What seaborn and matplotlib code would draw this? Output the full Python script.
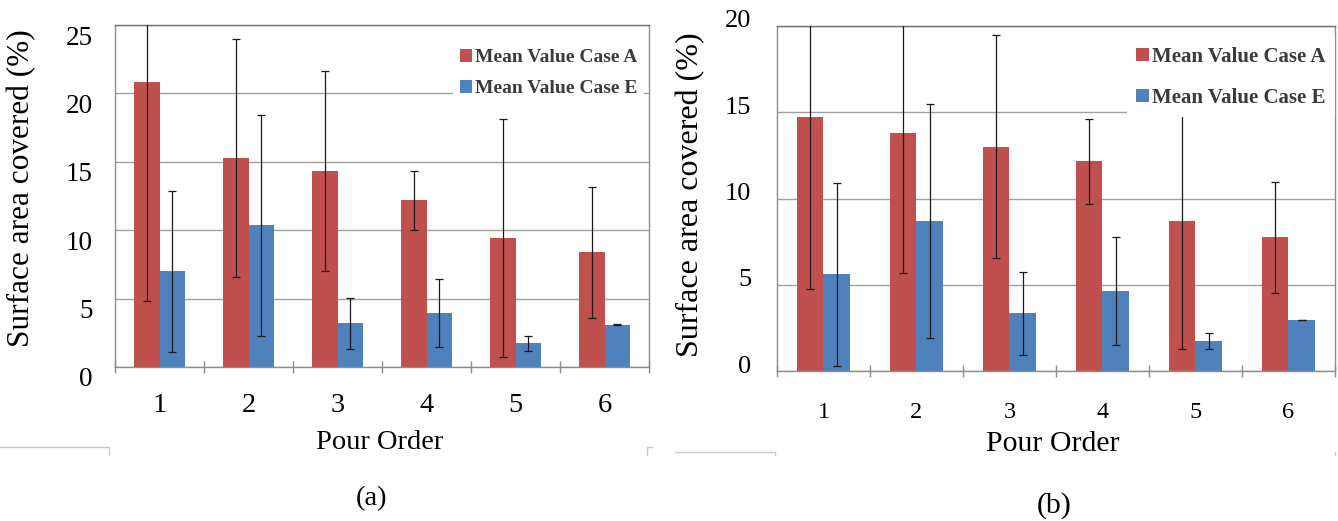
import numpy as np
import pandas as pd
import matplotlib.pyplot as plt
import matplotlib.transforms as mtransforms
from matplotlib.lines import Line2D
from matplotlib.ticker import MultipleLocator, FixedLocator
import seaborn as sns

sns.set_theme(style="white")
plt.rcParams["font.family"] = ["Liberation Serif", "DejaVu Serif"]

pour_order = [1, 2, 3, 4, 5, 6]
cases = ["Mean Value Case A", "Mean Value Case E"]

# panel (a)
a_mean_A = [20.8, 15.3, 14.35, 12.2, 9.45, 8.37]
a_err_A = [16.0, 8.7, 7.3, 2.15, 8.7, 4.77]
a_mean_E = [7.0, 10.35, 3.2, 3.95, 1.72, 3.1]
a_err_E = [5.87, 8.1, 1.85, 2.47, 0.55, 0.03]

# panel (b)
b_mean_A = [14.7, 13.8, 13.0, 12.15, 8.7, 7.75]
b_err_A = [9.95, 8.13, 6.46, 2.45, 7.4, 3.2]
b_mean_E = [5.6, 8.7, 3.35, 4.65, 1.74, 2.95]
b_err_E = [5.3, 6.8, 2.4, 3.12, 0.44, 0.02]

RED = "#C0504D"
BLUE = "#4F81BD"
GRID = "#A0A0A0"


def long_df(mean_A, mean_E):
    return pd.DataFrame({
        "order": [str(p) for p in pour_order] * 2,
        "value": list(mean_A) + list(mean_E),
        "case": [cases[0]] * 6 + [cases[1]] * 6,
    })


def draw(ax, mean_A, err_A, mean_E, err_E, ymax, cfg):
    df = long_df(mean_A, mean_E)
    sns.barplot(data=df, x="order", y="value", hue="case", ax=ax,
                palette=[RED, BLUE], width=0.57, errorbar=None,
                saturation=1, linewidth=0, zorder=2)
    for cont, err in zip(ax.containers, [err_A, err_E]):
        xs = [p.get_x() + p.get_width() / 2 for p in cont.patches]
        hs = [p.get_height() for p in cont.patches]
        ax.errorbar(xs, hs, yerr=err, fmt="none", ecolor="#1a1a1a",
                    elinewidth=0.9, capsize=2.6, capthick=0.9, zorder=3)

    ax.set_xlim(-0.5, 5.5)
    ax.set_ylim(0, ymax)
    ax.yaxis.set_major_locator(MultipleLocator(5))
    ax.grid(axis="y", color=GRID, linewidth=1.0)
    ax.grid(axis="x", visible=False)
    ax.set_axisbelow(True)

    for s in ax.spines.values():
        s.set_visible(True)
        s.set_color("#8c8c8c")
        s.set_linewidth(1.0)
    ax.spines["top"].set_color("#707070")

    ax.xaxis.set_minor_locator(FixedLocator(np.arange(-0.5, 6, 1.0)))
    ax.tick_params(axis="x", which="minor", length=8, width=1.0,
                   color="#8c8c8c", direction="inout", bottom=True)
    ax.tick_params(axis="x", which="major", length=0, pad=cfg["xpad"],
                   labelsize=cfg["xtick"], labelcolor="black")
    ax.tick_params(axis="y", length=0, pad=cfg["ypad"],
                   labelsize=cfg["ytick"], labelcolor="black")

    # the y tick labels sit a little off their grid lines in the source
    shift = mtransforms.ScaledTranslation(0, cfg["yshift"] / 100,
                                          ax.figure.dpi_scale_trans)
    for lab in ax.get_yticklabels():
        lab.set_transform(lab.get_transform() + shift)

    ax.set_xlabel("Pour Order", fontsize=cfg["xlab"], color="black",
                  va="top")
    ax.xaxis.set_label_coords(*cfg["xlab_xy"])
    ax.set_ylabel("Surface area covered (%)", fontsize=cfg["ylab"],
                  color="black", va="center")
    ax.yaxis.set_label_coords(*cfg["ylab_xy"])

    leg = ax.legend(loc="upper right", bbox_to_anchor=cfg["leg_xy"],
                    prop={"size": cfg["leg"], "weight": "bold"},
                    frameon=True, framealpha=1,
                    facecolor="white", edgecolor="none", fancybox=False,
                    borderpad=cfg["leg_pad"], handlelength=0.62,
                    handleheight=0.62, handletextpad=0.15,
                    labelspacing=cfg["leg_space"], borderaxespad=0)
    leg.set_zorder(5)
    for t in leg.get_texts():
        t.set_color("#3a3a3a")

    ax.text(cfg["tag_xy"][0], cfg["tag_xy"][1], cfg["tag"],
            transform=ax.transAxes, ha="center", va="center",
            fontsize=cfg["xlab"], color="black")


fig = plt.figure(figsize=(13.38, 5.21), dpi=100)
ax_a = fig.add_axes([0.0860, 0.2956, 0.3991, 0.6564])
ax_b = fig.add_axes([0.5807, 0.2879, 0.4170, 0.6622])

draw(ax_a, a_mean_A, a_err_A, a_mean_E, a_err_E, 25, dict(
    xtick=20.5, ytick=19.5, xpad=19, ypad=16, yshift=-10,
    xlab=20.5, xlab_xy=(0.495, -0.185), ylab=22.5, ylab_xy=(-0.176, 0.523),
    leg=14, leg_xy=(0.99, 0.95), leg_space=0.72, leg_pad=0.35,
    tag_xy=(0.48, -0.385), tag="(a)"))
draw(ax_b, b_mean_A, b_err_A, b_mean_E, b_err_E, 20, dict(
    xtick=17.5, ytick=19, xpad=22, ypad=18.5, yshift=7,
    xlab=21.5, xlab_xy=(0.495, -0.175), ylab=23, ylab_xy=(-0.155, 0.512),
    leg=15, leg_xy=(1.0, 0.967), leg_space=1.0, leg_pad=0.45,
    tag_xy=(0.497, -0.39), tag="(b)"))

# faint border lines left over from the source layout
edge = dict(color="#c8c8c8", linewidth=1.0, transform=fig.transFigure)
for xs, ys in [([0, 109], [74, 74]), ([109, 109], [74, 66]),
               ([647, 647], [74, 66]), ([647, 652], [74, 74]),
               ([675, 775], [69, 69]), ([775, 775], [69, 66]),
               ([1335, 1335], [69, 66])]:
    fig.add_artist(Line2D([x / 1338 for x in xs], [y / 521 for y in ys], **edge))

fig.savefig("out.png", dpi=100)
